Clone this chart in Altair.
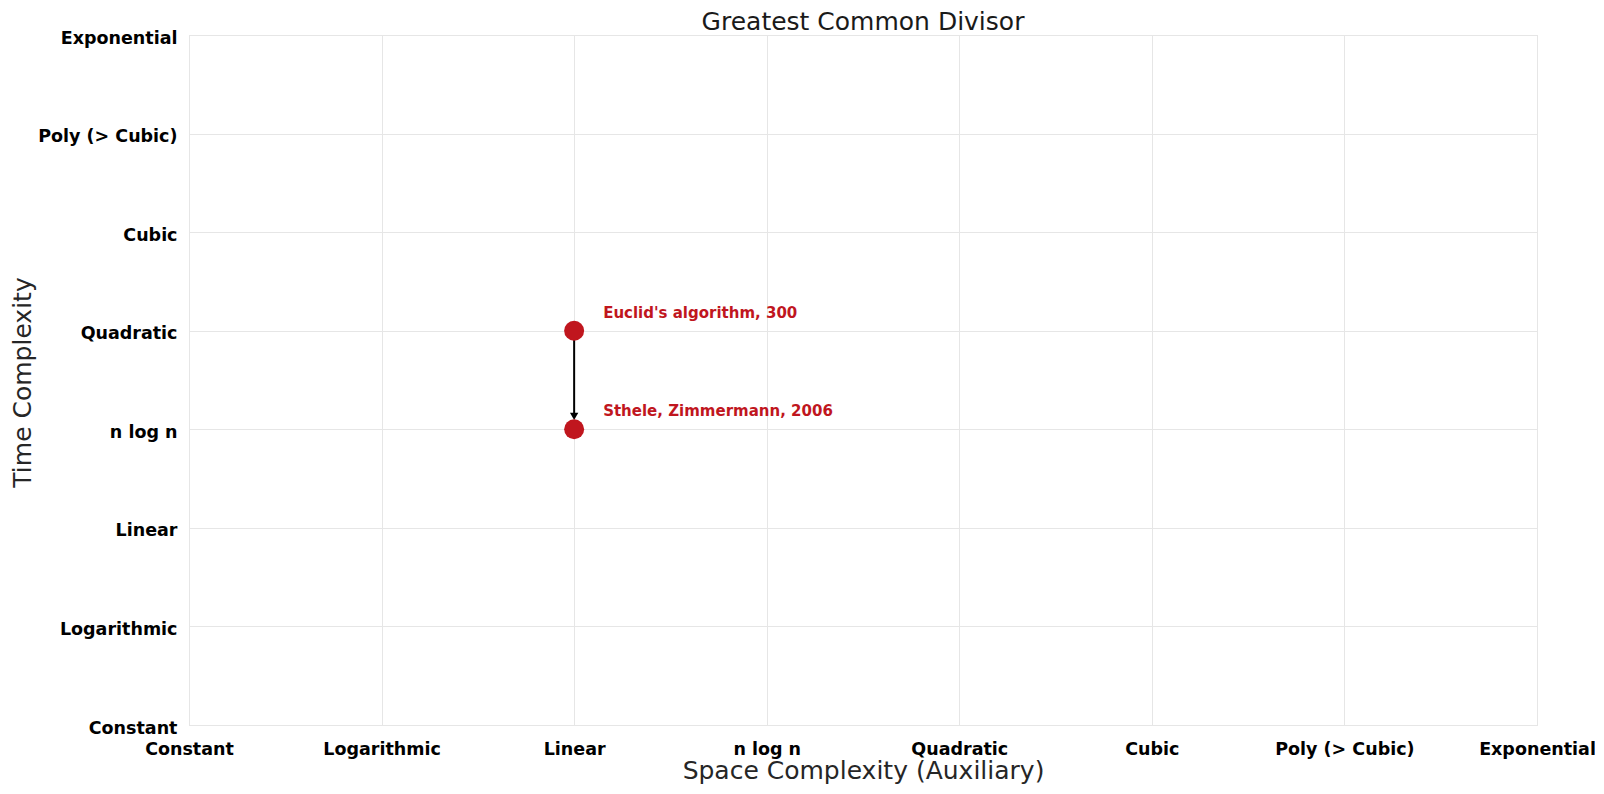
import altair as alt
import pandas as pd

categories = ["Constant", "Logarithmic", "Linear", "n log n", "Quadratic",
              "Cubic", "Poly (> Cubic)", "Exponential"]
algorithms = ["Euclid's algorithm, 300", "Sthele, Zimmermann, 2006"]
space = ["Linear", "Linear"]
time = ["Quadratic", "n log n"]

idx = {c: i for i, c in enumerate(categories)}
df = pd.DataFrame({
    "label": algorithms,
    "x": [idx[s] for s in space],
    "y": [idx[t] for t in time],
})
arrow = pd.DataFrame({
    "x": [idx[space[0]]],
    "y": [idx[time[0]]],
    "y2": [idx[time[1]]],
})

label_expr = "[" + ",".join("'" + c.replace("'", "\\'") + "'" for c in categories) + "][datum.value]"

RED = "#c0161e"

xscale = alt.Scale(domain=[0, len(categories) - 1], nice=False, zero=False)
yscale = alt.Scale(domain=[0, len(categories) - 1], nice=False, zero=False)

xaxis = alt.Axis(
    title="Space Complexity (Auxiliary)", values=list(range(len(categories))),
    labelExpr=label_expr, ticks=False, domain=False, grid=True,
    gridColor="#e6e6e6", labelFont="DejaVu Sans", labelFontSize=17.5,
    labelFontWeight="bold", labelColor="#000000", labelPadding=15,
    labelAngle=0, labelFlush=False, labelOverlap=False,
    titleFont="DejaVu Sans", titleFontSize=25, titleFontWeight="normal",
    titleColor="#262626", titleX=674, titleY=45, titleBaseline="middle",
)
yaxis = alt.Axis(
    title="Time Complexity", values=list(range(len(categories))),
    labelExpr=label_expr, ticks=False, domain=False, grid=True,
    gridColor="#e6e6e6", labelFont="DejaVu Sans", labelFontSize=17.5,
    labelFontWeight="bold", labelColor="#000000", labelPadding=12,
    labelOffset=3, labelFlush=False, labelOverlap=False,
    titleFont="DejaVu Sans", titleFontSize=25, titleFontWeight="normal",
    titleColor="#262626", titleX=-167, titleY=347, titleAngle=-90,
    titleBaseline="middle", titleAlign="center",
)

base = alt.Chart(df)

rule = alt.Chart(arrow).mark_rule(color="black", strokeWidth=2, y2Offset=-15).encode(
    x=alt.X("x:Q", scale=xscale, axis=xaxis),
    y=alt.Y("y:Q", scale=yscale, axis=yaxis),
    y2="y2:Q",
)
head = alt.Chart(arrow).mark_point(
    shape="triangle-down", filled=True, color="black", size=70, yOffset=-13, opacity=1
).encode(
    x=alt.X("x:Q", scale=xscale),
    y=alt.Y("y2:Q", scale=yscale),
)
points = base.mark_circle(color=RED, size=400, opacity=1).encode(
    x=alt.X("x:Q", scale=xscale),
    y=alt.Y("y:Q", scale=yscale),
)
texts = base.mark_text(
    color=RED, font="DejaVu Sans", fontSize=15, fontWeight="bold",
    align="left", baseline="middle", dx=29, dy=-18,
).encode(
    x=alt.X("x:Q", scale=xscale),
    y=alt.Y("y:Q", scale=yscale),
    text="label:N",
)

chart = alt.layer(rule, head, points, texts).properties(
    width=1348, height=690,
    title=alt.TitleParams("Greatest Common Divisor", font="DejaVu Sans",
                          fontSize=25, fontWeight="normal", color="#1a1a1a",
                          anchor="middle", offset=-6),
    autosize=alt.AutoSizeParams(type="none"),
    padding={"left": 181, "top": 27, "right": 58, "bottom": 60},
).configure_view(stroke=None).configure(background="white")

chart.save("out.html", embed_options={"renderer": "svg", "actions": False})
